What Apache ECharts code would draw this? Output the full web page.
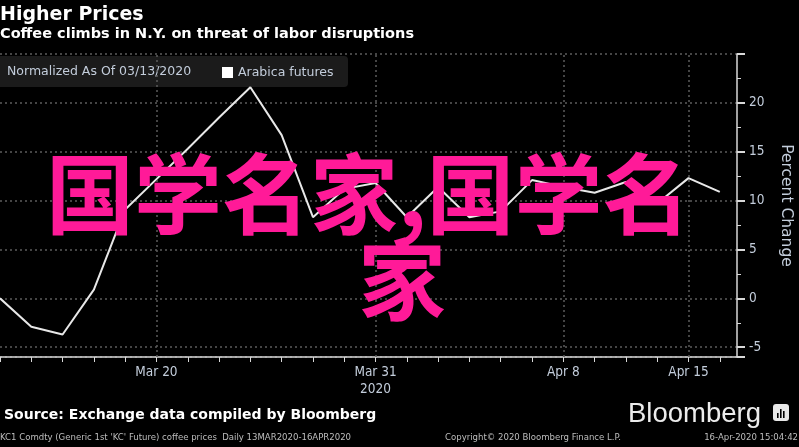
<!DOCTYPE html>
<html><head><meta charset="utf-8">
<script src="https://cdn.jsdelivr.net/npm/echarts@6/dist/echarts.min.js"></script>
<style>html,body{margin:0;padding:0;background:#000}#c{width:799px;height:447px}</style>
</head><body><div id="c"></div>
<script>
// Trading days 13 Mar 2020 - 16 Apr 2020 (ICE closed on Good Friday, Apr 10)
const dates = ['Mar 13','Mar 16','Mar 17','Mar 18','Mar 19','Mar 20','Mar 23','Mar 24','Mar 25','Mar 26','Mar 27','Mar 30','Mar 31','Apr 1','Apr 2','Apr 3','Apr 6','Apr 7','Apr 8','Apr 9','Apr 13','Apr 14','Apr 15','Apr 16'];
// Arabica futures, percent change normalized to 03/13/2020
const arabica = [0, -2.9, -3.7, 0.9, 9.1, 12.2, 15.3, 18.5, 21.6, 16.7, 8.3, 11.2, 11.8, 8.3, 11.4, 8.3, 8.9, 12.1, 11.4, 10.8, 11.9, 9.7, 12.3, 10.9];
const labeledDates = ['Mar 20','Mar 31','Apr 8','Apr 15'];
const yearLabels = ['', '2020', '', ''];
const yTickLabels = [-5, 0, 5, 10, 15, 20];

const COND = '"DejaVu Sans Condensed","Liberation Sans Narrow","DejaVu Sans",sans-serif';
const SANS = '"DejaVu Sans",Verdana,sans-serif';
const LBL = '#c3cddb';
const GRID = '#5c5c5c';

const labeledIdx = labeledDates.map(d => dates.indexOf(d));

const chart = echarts.init(document.getElementById('c'));
chart.setOption({
  animation: false,
  backgroundColor: '#000',
  title: [
    { text: 'Higher Prices', left: 0, top: 4, padding: 0,
      textStyle: { color: '#fff', fontSize: 19, fontWeight: 'bold', fontFamily: SANS, lineHeight: 22 } },
    { text: 'Coffee climbs in N.Y. on threat of labor disruptions', left: 0, top: 26, padding: 0,
      textStyle: { color: '#fff', fontSize: 14.5, fontWeight: 'bold', fontFamily: SANS, lineHeight: 17 } }
  ],
  legend: {
    data: ['Arabica futures'], left: 222, top: 66, padding: 0,
    icon: 'rect', itemWidth: 11, itemHeight: 11, itemGap: 5,
    textStyle: { color: LBL, fontSize: 12.5, fontFamily: SANS }
  },
  grid: { left: 0, right: 62, top: 54, bottom: 90, containLabel: false, outerBoundsMode: 'none' },
  xAxis: {
    type: 'value', min: 0, max: 23.55, interval: 1,
    axisLine: { show: true, onZero: false, lineStyle: { color: '#d8d8d8', width: 1.5 } },
    axisTick: { show: true, length: 5, lineStyle: { color: '#d8d8d8', width: 1 } },
    splitLine: { show: false },
    axisLabel: {
      margin: 7, color: LBL, fontSize: 13.5, fontFamily: COND, lineHeight: 17,
      showMaxLabel: false,
      formatter: v => {
        const k = labeledIdx.indexOf(Math.round(v));
        if (k < 0 || Math.abs(v - Math.round(v)) > 1e-6) return '';
        return yearLabels[k] ? labeledDates[k] + '\n' + yearLabels[k] : labeledDates[k];
      }
    }
  },
  yAxis: {
    type: 'value', position: 'right', min: -6, max: 25, splitNumber: 6,
    axisLine: { show: true, onZero: false, lineStyle: { color: '#d8d8d8', width: 1.5 } },
    axisTick: { show: true, length: 8, lineStyle: { color: '#d8d8d8', width: 2 } },
    minorTick: { show: true, splitNumber: 2, length: 4, lineStyle: { color: '#d8d8d8', width: 1 } },
    splitLine: { show: true, lineStyle: { color: GRID, type: [2, 3], width: 1.5 } },
    axisLabel: {
      margin: 12, color: LBL, fontSize: 13.5, fontFamily: COND,
      showMinLabel: false,
      formatter: v => (yTickLabels.indexOf(v) >= 0 ? String(v) : '')
    },
    name: 'Percent Change', nameLocation: 'middle', nameRotate: -90, nameGap: 41,
    nameTextStyle: { color: LBL, fontSize: 15.5, fontFamily: SANS }
  },
  series: [{
    name: 'Arabica futures', type: 'line',
    data: arabica.map((v, i) => [i, v]),
    showSymbol: false, symbol: 'none',
    lineStyle: { color: '#e8e8e8', width: 2 },
    itemStyle: { color: '#ffffff' },
    markLine: {
      silent: true, symbol: ['none', 'none'], label: { show: false },
      lineStyle: { color: GRID, type: [2, 3], width: 1.5 },
      data: labeledIdx.map(i => ({ xAxis: i }))
    }
  }],
  graphic: [
    { type: 'rect', z: 3, shape: { x: 0, y: 56, width: 348, height: 31, r: [0, 4, 4, 0] },
      style: { fill: '#1b1b1b' } },
    { type: 'text', z: 5, style: { x: 7, y: 72, text: 'Normalized As Of 03/13/2020', fill: LBL,
      font: '12.5px ' + SANS, textVerticalAlign: 'middle' } },
    { type: 'text', z: 5, style: { x: 4, y: 415, text: 'Source: Exchange data compiled by Bloomberg', fill: '#fff',
      font: 'bold 14px ' + SANS, textVerticalAlign: 'middle' } },
    { type: 'text', z: 5, style: { x: 628, y: 414, text: 'Bloomberg', fill: '#ececec',
      font: '27.5px "Liberation Sans",Arial,sans-serif', textVerticalAlign: 'middle' } },
    { type: 'rect', z: 5, shape: { x: 773, y: 404, width: 16, height: 17, r: 3 }, style: { fill: '#e8e8e8' } },
    { type: 'rect', z: 6, shape: { x: 777, y: 413, width: 1.6, height: 5 }, style: { fill: '#000' } },
    { type: 'rect', z: 6, shape: { x: 780, y: 409, width: 1.6, height: 9 }, style: { fill: '#000' } },
    { type: 'rect', z: 6, shape: { x: 783, y: 411, width: 1.6, height: 7 }, style: { fill: '#000' } },
    { type: 'text', z: 5, style: { x: 0, y: 438, text: "KC1 Comdty (Generic 1st 'KC' Future) coffee prices  Daily 13MAR2020-16APR2020",
      fill: '#bdbdbd', font: '9.5px ' + COND, textVerticalAlign: 'middle' } },
    { type: 'text', z: 5, style: { x: 445, y: 438, text: 'Copyright\u00a9 2020 Bloomberg Finance L.P.',
      fill: '#bdbdbd', font: '9.5px ' + COND, textVerticalAlign: 'middle' } },
    { type: 'text', z: 5, style: { x: 798, y: 438, text: '16-Apr-2020 15:04:42',
      fill: '#bdbdbd', font: '9.5px ' + COND, textAlign: 'right', textVerticalAlign: 'middle' } },
    { type: 'text', z: 100, style: { x: 46, y: 194, text: '国学名家,国学名', fill: '#ff1a98',
      font: 'bold 88px "Noto Sans CJK SC",sans-serif', textVerticalAlign: 'middle' } },
    { type: 'text', z: 100, style: { x: 402, y: 280, text: '家', fill: '#ff1a98',
      font: 'bold 88px "Noto Sans CJK SC",sans-serif', textAlign: 'center', textVerticalAlign: 'middle' } }
  ]
});
</script>
</body></html>
